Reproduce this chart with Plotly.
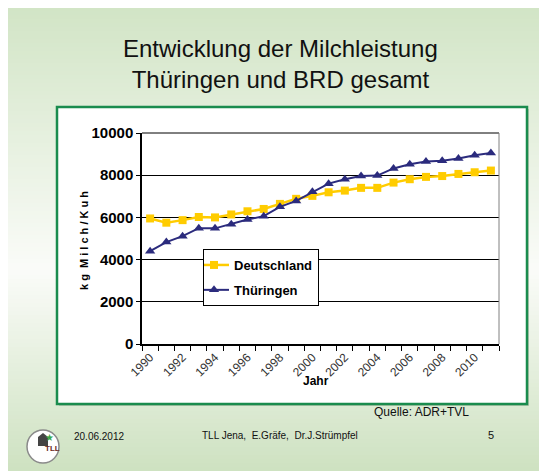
import numpy as np
import plotly.graph_objects as go

W, H = 547, 471
OFF = 8  # page body margin offsets the figure in the window

years = list(range(1990, 2012))
deutschland = [5950, 5750, 5870, 6020, 6000, 6140, 6290, 6400, 6640, 6880, 7020,
               7190, 7270, 7400, 7400, 7650, 7810, 7920, 7960, 8060, 8140, 8220]
thueringen = [4400, 4830, 5110, 5490, 5480, 5680, 5900, 6060, 6500, 6780, 7210,
              7600, 7810, 7960, 7980, 8320, 8520, 8650, 8680, 8790, 8950, 9050]
year_ticks = list(range(1990, 2011, 2))
y_ticks = [0, 2000, 4000, 6000, 8000, 10000]

FONT = "Liberation Sans, Arial, sans-serif"
NARROW = "Liberation Sans Narrow, Liberation Sans, Arial, sans-serif"

FW, FH = W - OFF, H - OFF


# screen pixel -> paper coords
def px(x):
    return (x - OFF) / FW


def py(y):
    return 1 - (y - OFF) / FH


fig = go.Figure()

fig.add_trace(go.Scatter(
    x=years, y=deutschland, name="Deutschland", legendgroup="d",
    mode="lines+markers",
    line=dict(color="#ffcc00", width=2.5),
    marker=dict(symbol="square", size=8, color="#ffcc00"),
))
fig.add_trace(go.Scatter(
    x=years, y=thueringen, name="Thüringen", legendgroup="t",
    mode="lines+markers",
    line=dict(color="#2b2b7d", width=2),
    marker=dict(symbol="triangle-up", size=9, color="#2b2b7d"),
))

# slide background: vertical green -> white -> green gradient, built from bands
shapes = []
top_c = np.array([210, 229, 198])
mid_c = np.array([251, 252, 249])
bot_c = np.array([206, 226, 193])
y0, ymid, y1 = 7, 270, 471
step = 4
for y in range(y0, y1, step):
    yc = y + step / 2
    if yc < ymid:
        t = (yc - y0) / (ymid - y0)
        c = top_c + (mid_c - top_c) * t
    else:
        t = (yc - ymid) / (y1 - ymid)
        c = mid_c + (bot_c - mid_c) * t
    col = "rgb(%d,%d,%d)" % tuple(c.astype(int))
    shapes.append(dict(type="rect", xref="paper", yref="paper", layer="below",
                       x0=px(OFF), x1=px(545), y0=py(y), y1=py(min(y + step, y1)),
                       fillcolor=col, line=dict(width=0)))

# chart box with slight shadow
shapes.append(dict(type="rect", xref="paper", yref="paper", layer="below",
                   x0=px(59), x1=px(529), y0=py(406), y1=py(109),
                   fillcolor="rgba(120,140,110,0.35)", line=dict(width=0)))
shapes.append(dict(type="rect", xref="paper", yref="paper", layer="below",
                   x0=px(57), x1=px(527), y0=py(404), y1=py(107),
                   fillcolor="white", line=dict(color="#1a8c4e", width=2.5)))
# plot area top / right edges
shapes.append(dict(type="line", xref="paper", yref="paper",
                   x0=px(142), x1=px(499), y0=py(133), y1=py(133),
                   line=dict(color="black", width=1)))
shapes.append(dict(type="line", xref="paper", yref="paper",
                   x0=px(499), x1=px(499), y0=py(133), y1=py(344),
                   line=dict(color="#808080", width=1)))

# logo
shapes.append(dict(type="circle", xref="paper", yref="paper",
                   x0=px(27), x1=px(59), y0=py(463), y1=py(430),
                   fillcolor="white", line=dict(color="#8a8a8a", width=1.5)))
shapes.append(dict(type="path", xref="paper", yref="paper",
                   path="M %f %f L %f %f L %f %f L %f %f L %f %f Z" % (
                       px(38), py(446), px(38), py(437), px(43), py(433),
                       px(48), py(437), px(48), py(446)),
                   fillcolor="#444444", line=dict(width=0)))

annotations = [
    dict(text="Entwicklung der Milchleistung<br>Thüringen und BRD gesamt",
         x=px(280), y=py(64), xref="paper", yref="paper", showarrow=False,
         font=dict(family=FONT, size=24, color="#111111"), align="center",
         yanchor="middle"),
    dict(text="k g  M i l c h / K u h", x=px(76), y=py(241),
         xref="paper", yref="paper", showarrow=False, textangle=-90,
         font=dict(family=FONT, size=11, color="black", weight="bold")),
    dict(text="Jahr", x=px(316), y=py(390), xref="paper", yref="paper",
         showarrow=False, font=dict(family=FONT, size=12, color="black", weight="bold")),
    dict(text="Quelle: ADR+TVL", x=px(372), y=py(421), xref="paper", yref="paper",
         xanchor="left", showarrow=False,
         font=dict(family=NARROW, size=12, color="#111111")),
    dict(text="20.06.2012", x=px(72), y=py(444), xref="paper", yref="paper",
         xanchor="left", showarrow=False,
         font=dict(family=NARROW, size=10, color="#111111")),
    dict(text="TLL Jena,  E.Gräfe,  Dr.J.Strümpfel", x=px(280), y=py(443),
         xref="paper", yref="paper", showarrow=False,
         font=dict(family=NARROW, size=10, color="#111111")),
    dict(text="5", x=px(496), y=py(443), xref="paper", yref="paper",
         showarrow=False, font=dict(family=FONT, size=11, color="#111111")),
    dict(text="★", x=px(43), y=py(445), xref="paper", yref="paper",
         showarrow=False, font=dict(family="DejaVu Sans", size=10, color="#3aa84a")),
    dict(text="TLL", x=px(43), y=py(455), xref="paper", yref="paper",
         showarrow=False, font=dict(family=NARROW, size=8, color="#6b2a1a", weight="bold")),
]

fig.update_layout(
    width=FW, height=FH,
    margin=dict(l=0, r=0, t=0, b=0, autoexpand=False),
    paper_bgcolor="white",
    plot_bgcolor="white",
    font=dict(family=FONT, color="black"),
    shapes=shapes,
    annotations=annotations,
    showlegend=True,
    legend=dict(
        x=px(203), y=py(249), xanchor="left", yanchor="top",
        bgcolor="white", bordercolor="black", borderwidth=1,
        font=dict(family=FONT, size=13, color="black", weight="bold"),
        tracegroupgap=5, itemwidth=30, indentation=-10,
    ),
    xaxis=dict(
        domain=[px(142), px(499)],
        range=[1989.5, 2011.5],
        tickmode="array", tickvals=year_ticks,
        ticktext=[str(v) for v in year_ticks],
        tickangle=-45, ticks="", showgrid=False, zeroline=False,
        showline=True, linecolor="black", linewidth=1.5,
        tickfont=dict(family=FONT, size=12, color="#333333"),
        minor=dict(tickmode="linear", tick0=1989.5, dtick=1, ticks="outside",
                   ticklen=5, tickcolor="black", showgrid=False),
    ),
    yaxis=dict(
        domain=[py(344), py(133)],
        range=[0, 10000],
        tickmode="array", tickvals=y_ticks,
        ticktext=[str(v) for v in y_ticks],
        ticks="outside", ticklen=4, tickcolor="black",
        showgrid=True, gridcolor="black", gridwidth=1,
        zeroline=False, showline=True, linecolor="black", linewidth=1.5,
        tickfont=dict(family=FONT, size=15, color="black", weight="bold"),
    ),
)

fig.write_html("out.html")
